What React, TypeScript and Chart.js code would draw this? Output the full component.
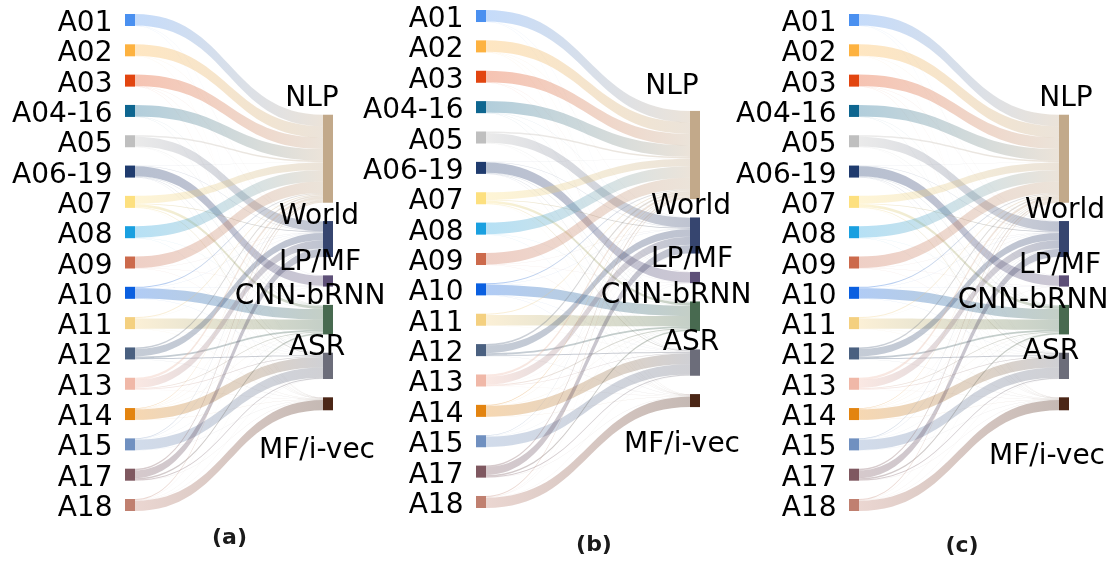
import React, { useEffect, useRef } from "react";
import { Chart, registerables } from "chart.js";

Chart.register(...registerables);

// ---------- data ----------
const sources = ["A01", "A02", "A03", "A04-16", "A05", "A06-19", "A07", "A08", "A09", "A10", "A11", "A12", "A13", "A14", "A15", "A17", "A18"];
const sourceColors = ["#4a90f0", "#fdb240", "#e24510", "#0e6690", "#bfbfbf", "#1f3b6e", "#fde07f", "#1aa0e0", "#cc6a4c", "#0a5fe0", "#f4d080", "#4a6080", "#f0b8a8", "#e38410", "#7090c0", "#7f5860", "#c08070"];
const targets = ["NLP", "World", "LP/MF", "CNN-bRNN", "ASR", "MF/i-vec"];
const targetColors = ["#c2a98a", "#36456f", "#5e5078", "#486a50", "#6c6d7a", "#4b2616"];

// share of each source flowing into each target (one value per source, in source order)
const toNLP = [0.955, 0.955, 0.955, 0.955, 0.135, 0.02, 0.63, 0.955, 0.955, 0.085, 0.085, 0.135, 0.195, 0.055, 0.055, 0.125, 0.085];
const toWorld = [0.01, 0.01, 0.01, 0.01, 0.80, 0.03, 0.06, 0.01, 0.01, 0.02, 0.02, 0.62, 0.66, 0.02, 0.03, 0.66, 0.02];
const toLPMF = [0.005, 0.005, 0.005, 0.005, 0.005, 0.85, 0.01, 0.005, 0.005, 0.005, 0.005, 0.005, 0.005, 0.005, 0.005, 0.005, 0.005];
const toCNN = [0.01, 0.01, 0.01, 0.01, 0.03, 0.04, 0.22, 0.01, 0.01, 0.86, 0.86, 0.14, 0.07, 0.02, 0.03, 0.12, 0.01];
const toASR = [0.01, 0.01, 0.01, 0.01, 0.02, 0.04, 0.06, 0.01, 0.01, 0.02, 0.02, 0.08, 0.05, 0.88, 0.86, 0.08, 0.02];
const toMF = [0.01, 0.01, 0.01, 0.01, 0.01, 0.02, 0.02, 0.01, 0.01, 0.01, 0.01, 0.02, 0.02, 0.02, 0.02, 0.01, 0.86];

const captions = ["(a)", "(b)", "(c)"];

// ---------- layout / style ----------
const W = 1119;
const H = 561;
const NODE_GAP = 1.526; // node padding, in value units
const NODE_W = 10;
const LINK_ALPHA = 0.32;
const THIN_ALPHA = 0.16;

type Panel = {
  left: number; right: number; top: number; bottom: number;
  capDx: number; capDy: number;
  labelOffsets: number[][]; // [dx from node left to label centre, dy baseline from node top]
};

const panels: Panel[] = [
  { left: 125, right: 333, top: 14, bottom: 511, capDx: 0.5, capDy: 33,
    labelOffsets: [[-11, -9], [-4, 3], [-3, -5], [-13, -1], [-6, 2], [-6, 61]] },
  { left: 476, right: 700, top: 10, bottom: 508, capDx: 6, capDy: 42.6,
    labelOffsets: [[-18, -17], [1, -3], [2, -5], [-14, 2], [1, 1], [-8, 58]] },
  { left: 849, right: 1069, top: 14, bottom: 511, capDx: 3, capDy: 41,
    labelOffsets: [[7, -9], [6, -3], [1, -2], [-26, 3], [-8, 6], [-12, 67]] },
];

function rgba(hex: string, a: number) {
  const n = parseInt(hex.slice(1), 16);
  return `rgba(${(n >> 16) & 255},${(n >> 8) & 255},${n & 255},${a})`;
}

const matrix = [toNLP, toWorld, toLPMF, toCNN, toASR, toMF]; // [target][source]
const leftVals = sources.map((_, i) => matrix.reduce((s, row) => s + row[i], 0));
const rightVals = targets.map((_, j) => matrix[j].reduce((a, b) => a + b, 0));
const leftTotal = leftVals.reduce((a, b) => a + b, 0) + (sources.length - 1) * NODE_GAP;
const rightTotal = rightVals.reduce((a, b) => a + b, 0) + (targets.length - 1) * NODE_GAP;
const Y_MAX = Math.max(leftTotal, rightTotal);

const leftTops: number[] = [];
{
  let y = (Y_MAX - leftTotal) / 2;
  leftVals.forEach((v) => { leftTops.push(y); y += v + NODE_GAP; });
}
const rightTops: number[] = [];
{
  let y = (Y_MAX - rightTotal) / 2;
  rightVals.forEach((v) => { rightTops.push(y); y += v + NODE_GAP; });
}

const sankeyPlugin = {
  id: "sankeyPanel",
  afterDatasetsDraw(chart: any, _args: any, opts: any) {
    const ctx: CanvasRenderingContext2D = chart.ctx;
    const xs = chart.scales.x;
    const ys = chart.scales.y;
    const p: Panel = opts.panel;
    const xL = xs.getPixelForValue(0);
    const xR = xs.getPixelForValue(1);
    const x0 = xL + NODE_W;
    const x1 = xR - NODE_W;
    const xm = (x0 + x1) / 2;

    const srcOff = leftTops.slice();
    const tgtOff = rightTops.slice();
    const segs: { i: number; j: number; s0: number; t0: number; v: number }[] = [];
    for (let i = 0; i < sources.length; i++) {
      for (let j = 0; j < targets.length; j++) {
        const v = matrix[j][i];
        if (v <= 0) continue;
        segs.push({ i, j, s0: srcOff[i], t0: 0, v });
        srcOff[i] += v;
      }
    }
    for (let j = 0; j < targets.length; j++) {
      for (let i = 0; i < sources.length; i++) {
        const s = segs.find((g) => g.i === i && g.j === j);
        if (!s) continue;
        s.t0 = tgtOff[j];
        tgtOff[j] += s.v;
      }
    }

    ctx.save();
    for (const s of segs) {
      const ya0 = ys.getPixelForValue(s.s0);
      const yb0 = ys.getPixelForValue(s.s0 + s.v);
      const ya1 = ys.getPixelForValue(s.t0);
      const yb1 = ys.getPixelForValue(s.t0 + s.v);
      const a = s.v < 0.05 ? THIN_ALPHA : LINK_ALPHA;
      const g = ctx.createLinearGradient(x0, 0, x1, 0);
      g.addColorStop(0, rgba(sourceColors[s.i], a));
      g.addColorStop(1, rgba(targetColors[s.j], a));
      ctx.fillStyle = g;
      ctx.beginPath();
      ctx.moveTo(x0, ya0);
      ctx.bezierCurveTo(xm, ya0, xm, ya1, x1, ya1);
      ctx.lineTo(x1, yb1);
      ctx.bezierCurveTo(xm, yb1, xm, yb0, x0, yb0);
      ctx.closePath();
      ctx.fill();
    }

    ctx.font = '28px "DejaVu Sans"';
    ctx.textAlign = "right";
    ctx.textBaseline = "alphabetic";
    sources.forEach((name, i) => {
      const yt = ys.getPixelForValue(leftTops[i]);
      const yb = ys.getPixelForValue(leftTops[i] + leftVals[i]);
      ctx.fillStyle = sourceColors[i];
      ctx.fillRect(xL, yt, NODE_W, yb - yt);
      ctx.fillStyle = "#000";
      ctx.fillText(name, xL - 12.5, (yt + yb) / 2 + 11);
    });

    targets.forEach((_name, j) => {
      const yt = ys.getPixelForValue(rightTops[j]);
      const yb = ys.getPixelForValue(rightTops[j] + rightVals[j]);
      ctx.fillStyle = targetColors[j];
      ctx.fillRect(x1, yt, NODE_W, yb - yt);
    });
    ctx.textAlign = "center";
    targets.forEach((name, j) => {
      const yt = ys.getPixelForValue(rightTops[j]);
      const [dx, dy] = p.labelOffsets[j];
      ctx.fillStyle = "#000";
      ctx.fillText(name, x1 + dx, yt + dy);
    });

    const ca = chart.chartArea;
    ctx.font = 'bold 22px "DejaVu Sans"';
    ctx.fillStyle = "#1a1a1a";
    ctx.fillText(opts.caption, (ca.left + ca.right) / 2 + p.capDx, ca.bottom + p.capDy);
    ctx.restore();
  },
};

function SankeyPanel({ index }: { index: number }) {
  const ref = useRef<HTMLCanvasElement | null>(null);
  useEffect(() => {
    if (!ref.current) return;
    const p = panels[index];
    const chart = new Chart(ref.current, {
      type: "scatter",
      data: {
        datasets: [
          {
            data: sources.map((_, i) => ({ x: 0, y: leftTops[i] + leftVals[i] / 2 })),
            pointRadius: 0,
            showLine: false,
          },
        ],
      },
      options: {
        animation: false,
        responsive: false,
        devicePixelRatio: 1,
        events: [],
        layout: { padding: { left: p.left, right: W - p.right, top: p.top, bottom: H - p.bottom } },
        scales: {
          x: { type: "linear", min: 0, max: 1, display: false },
          y: { type: "linear", min: 0, max: Y_MAX, reverse: true, display: false },
        },
        plugins: {
          legend: { display: false },
          tooltip: { enabled: false },
          title: { display: false },
          sankeyPanel: { panel: p, caption: captions[index] },
        } as any,
      },
      plugins: [sankeyPlugin],
    });
    return () => chart.destroy();
  }, [index]);
  return (
    <canvas
      ref={ref}
      width={W}
      height={H}
      style={{ position: "absolute", left: 0, top: 0, width: W, height: H }}
    />
  );
}

export default function App() {
  useEffect(() => {
    document.body.style.margin = "0";
  }, []);
  return (
    <div style={{ position: "relative", width: W, height: H, background: "#fff" }}>
      {panels.map((_, i) => (
        <SankeyPanel key={i} index={i} />
      ))}
    </div>
  );
}
